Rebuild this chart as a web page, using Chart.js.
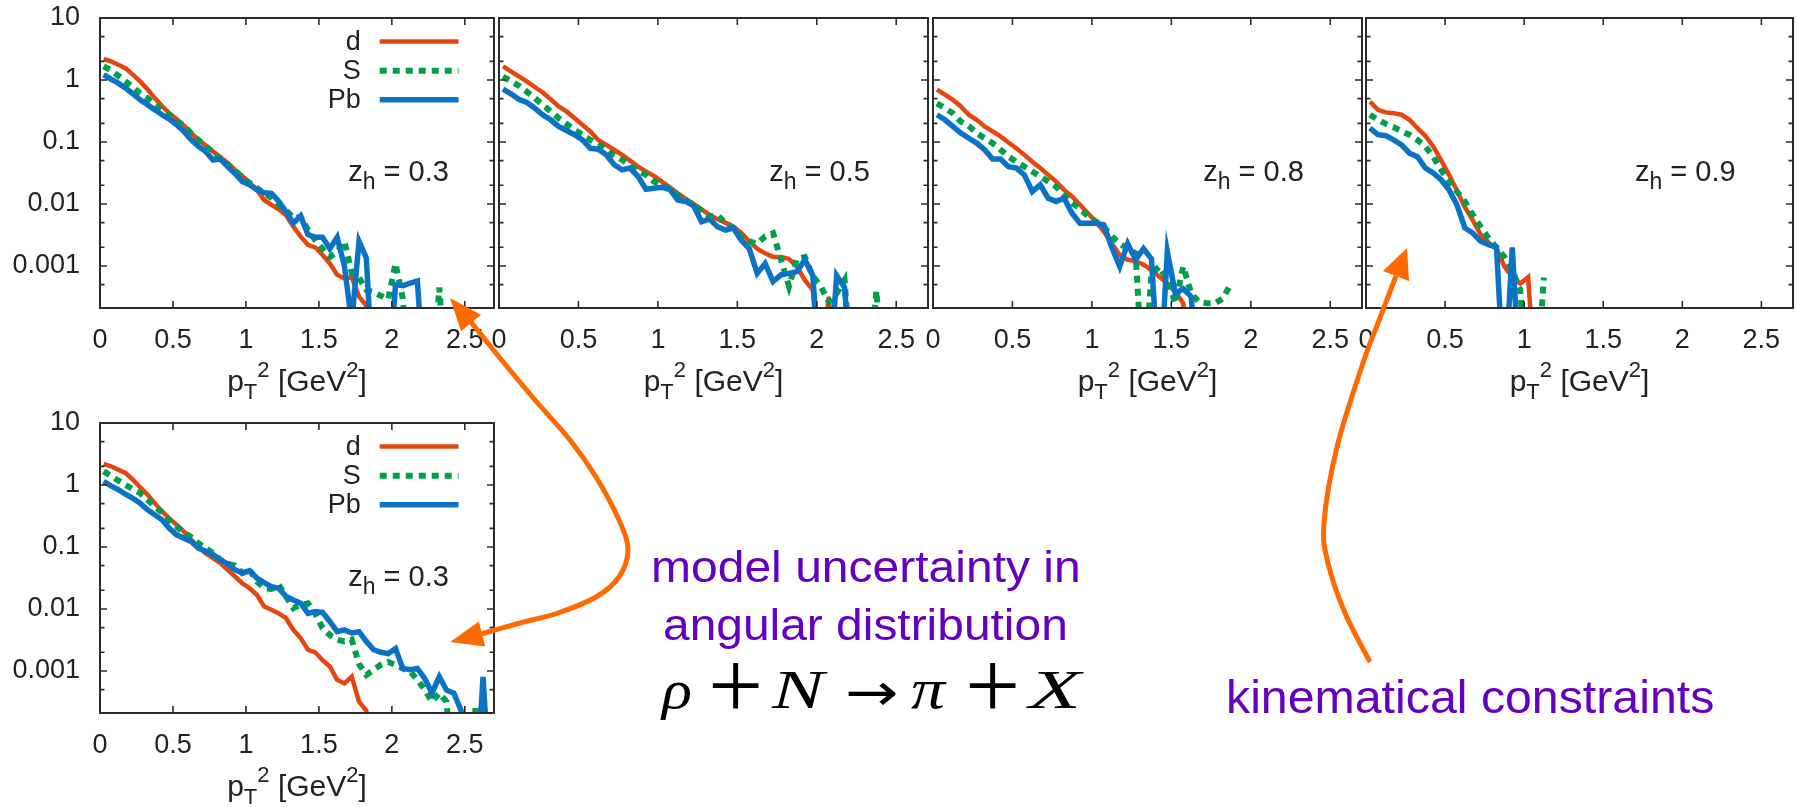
<!DOCTYPE html>
<html>
<head>
<meta charset="utf-8">
<title>pT2 spectra</title>
<script src="https://cdn.jsdelivr.net/npm/chart.js"></script>
<style>
  html, body { margin: 0; padding: 0; background: #fff; overflow: hidden; }
  body { width: 1797px; height: 807px; position: relative; }
  canvas.panel { position: absolute; }
  #overlay { position: absolute; left: 0; top: 0; pointer-events: none; z-index: 5; }
  .note { position: absolute; white-space: nowrap; line-height: 1; transform-origin: 0 0; z-index: 6; }
</style>
</head>
<body>
<canvas class="panel" id="p1"></canvas>
<canvas class="panel" id="p2"></canvas>
<canvas class="panel" id="p3"></canvas>
<canvas class="panel" id="p4"></canvas>
<canvas class="panel" id="p5"></canvas>
<canvas id="overlay" width="1797" height="807"></canvas>

<script>
// x grid (pT^2 in GeV^2), shared by all curves
const pT2 = [0.025,0.075,0.125,0.175,0.225,0.275,0.325,0.375,0.425,0.475,
             0.525,0.575,0.625,0.675,0.725,0.775,0.825,0.875,0.925,0.975,
             1.025,1.075,1.125,1.175,1.225,1.275,1.325,1.375,1.425,1.475,
             1.525,1.575,1.625,1.675,1.725,1.775,1.825,1.875,1.925,1.975,
             2.025,2.075,2.125,2.175,2.225,2.275,2.325,2.375,2.425,2.475,
             2.525,2.575,2.625,2.675];

// values; 1e-5 = curve dropped below the axis
const d_z03 = [2.18,2.0,1.76,1.55,1.22,0.95,0.71,0.51,0.38,0.29,
               0.234,0.183,0.139,0.108,0.088,0.070,0.057,0.046,0.0355,0.0284,
               0.0222,0.017,0.0116,0.0097,0.0082,0.0066,0.0043,0.0030,0.0022,0.0020,
               0.0015,0.0011,7.2e-4,6.3e-4,6.6e-4,3.2e-4,2.3e-4,1e-5];
const S_z03 = [1.66,1.43,1.17,0.95,0.77,0.61,0.51,0.40,0.33,0.275,
               0.222,0.18,0.139,0.108,0.085,0.068,0.053,0.043,0.035,0.026,
               0.022,0.018,0.015,0.0126,0.0097,0.008,0.0059,0.0062,0.0038,0.0026,
               0.0019,0.0014,0.0017,0.0025,7.7e-4,6.5e-4,4.1e-4,3.8e-4,3.3e-4,2.9e-4,
               1.1e-3,3e-4,1e-5,1e-5,1e-5,1e-5,4.5e-4,1e-5];
const Pb_z03 = [1.22,1.03,0.89,0.74,0.60,0.48,0.40,0.33,0.275,0.234,
                0.19,0.148,0.108,0.085,0.07,0.051,0.053,0.04,0.031,0.023,
                0.0204,0.017,0.0152,0.0148,0.011,0.0075,0.0049,0.0064,0.0032,0.0029,
                0.0029,0.0019,0.0029,0.001,1.2e-4,0.0025,0.00135,1e-5,1e-5,1e-5,
                5.0e-4,4.8e-4,5.3e-4,5.7e-4,1e-5];

const d_z05 = [1.66,1.38,1.14,0.95,0.77,0.63,0.49,0.374,0.311,0.243,
               0.189,0.148,0.108,0.090,0.075,0.062,0.050,0.040,0.0334,0.0284,
               0.023,0.0186,0.0149,0.0121,0.0100,0.0082,0.0067,0.0057,0.0050,0.0043,
               0.0034,0.0025,0.0019,0.0016,0.0014,0.0014,0.0013,9.8e-4,5.9e-4,4.1e-4,
               1e-5,3.2e-4,1e-5];
const S_z05 = [1.14,0.95,0.81,0.65,0.51,0.40,0.311,0.243,0.196,0.157,
               0.131,0.108,0.092,0.075,0.060,0.0515,0.0417,0.0347,0.0295,0.023,
               0.0204,0.017,0.014,0.0116,0.0097,0.0078,0.0063,0.0066,0.005,0.0041,
               0.003,0.0025,0.0023,0.003,0.0034,0.00126,4.7e-4,0.0013,0.0014,6.8e-4,
               4.7e-4,2.65e-4,3.6e-4,5.9e-4,1e-5,1e-5,1e-5,4.0e-4,1e-5];
const Pb_z05 = [0.71,0.60,0.49,0.435,0.352,0.275,0.228,0.178,0.153,0.131,
                0.108,0.079,0.0766,0.062,0.043,0.0355,0.038,0.0277,0.0173,0.018,
                0.0186,0.0173,0.0116,0.011,0.0093,0.0052,0.0057,0.0043,0.0038,0.0041,
                0.0026,0.0019,7.6e-4,0.0011,5.6e-4,7.2e-4,7.6e-4,8.1e-4,0.00126,7.0e-4,
                1e-5,1e-5,7.0e-4,4.5e-4,1e-5];

const d_z08 = [0.70,0.58,0.48,0.374,0.275,0.228,0.178,0.148,0.123,0.098,
               0.079,0.062,0.048,0.038,0.0295,0.023,0.0169,0.0132,0.0097,0.0071,
               0.0052,0.0036,0.0023,0.0015,0.00126,0.0012,0.00105,8.6e-4,6.7e-4,5.2e-4,
               3.8e-4,2.5e-4,1e-5];
const S_z08 = [0.42,0.35,0.29,0.214,0.182,0.139,0.115,0.096,0.075,0.058,
               0.048,0.040,0.0334,0.0277,0.023,0.019,0.014,0.0103,0.0085,0.0063,
               0.0052,0.0043,0.003,0.0023,0.0019,0.0016,1e-5,7.6e-4,9.8e-4,5.9e-4,
               2.5e-4,9.8e-4,3.6e-4,2.6e-4,2.5e-4,2.5e-4,3e-4,5.2e-4];
const Pb_z08 = [0.275,0.228,0.178,0.139,0.115,0.096,0.075,0.053,0.053,0.040,
                0.038,0.0295,0.0159,0.0204,0.0124,0.011,0.0124,0.0071,0.0049,0.0049,
                0.0049,0.0046,0.002,9.8e-4,0.0023,0.00126,0.0019,0.0013,1e-5,0.0017,
                3.6e-4,4.3e-4,3.2e-4,1e-5];

const d_z09 = [0.45,0.33,0.30,0.29,0.275,0.228,0.167,0.126,0.085,0.051,
               0.0295,0.0165,0.0089,0.0055,0.0032,0.0024,0.0019,9.9e-4,6.6e-4,5.2e-4,
               6.6e-4,1e-5];
const S_z09 = [0.275,0.228,0.196,0.174,0.148,0.131,0.108,0.085,0.058,0.0355,
               0.023,0.0159,0.011,0.0067,0.0043,0.0028,0.002,0.0014,8.6e-4,4.1e-4,
               1e-5,1e-5,6.5e-4];
const Pb_z09 = [0.167,0.131,0.126,0.108,0.090,0.066,0.058,0.038,0.0316,0.0246,
                0.0169,0.0097,0.0041,0.0034,0.0025,0.0022,0.002,1e-5,0.002,1e-5];

// lower panel: z_h = 0.3 with the other angular model
const d_z03b = [2.2,2.0,1.76,1.56,1.22,0.92,0.70,0.51,0.374,0.29,
                0.228,0.178,0.131,0.1,0.079,0.066,0.055,0.043,0.0334,0.026,
                0.0216,0.017,0.011,0.0097,0.0085,0.0071,0.0046,0.0034,0.0022,0.002,
                0.0015,0.00118,7.2e-4,6.3e-4,8.1e-4,3.2e-4,2.3e-4,1e-5];
const S_z03b = [1.66,1.40,1.18,1.0,0.86,0.74,0.58,0.45,0.36,0.268,
                0.214,0.171,0.144,0.115,0.096,0.079,0.062,0.0536,0.050,0.038,
                0.043,0.0277,0.0216,0.021,0.0245,0.0159,0.0103,0.0117,0.0123,0.0085,
                0.0049,0.0038,0.0032,0.003,0.0032,0.0013,8.6e-4,0.00105,0.00126,0.0014,
                0.00126,0.0011,9.8e-4,7.2e-4,5e-4,3.2e-4,4.4e-4,3.2e-4,1e-5,1e-5,
                1e-5,2.8e-4,2.6e-4,2.7e-4];
const Pb_z03b = [1.14,0.97,0.84,0.71,0.61,0.51,0.40,0.33,0.275,0.20,
                 0.157,0.139,0.123,0.096,0.085,0.075,0.062,0.0536,0.043,0.038,
                 0.0417,0.0316,0.0267,0.023,0.0216,0.0159,0.014,0.0124,0.0085,0.0091,
                 0.0088,0.0063,0.0043,0.0046,0.0041,0.0043,0.003,0.0022,0.002,0.0019,
                 0.0023,0.0011,0.00105,0.0011,7.6e-4,4.4e-4,8.1e-4,4.9e-4,4.4e-4,2.3e-4,
                 1e-5,1e-5,8e-4,1e-5];

const seriesNames = ['d', 'S', 'Pb'];
const zhLabels = ['0.3', '0.5', '0.8', '0.9', '0.3'];
const xTicks = [0, 0.5, 1, 1.5, 2, 2.5];
const xTickLabels = ['0', '0.5', '1', '1.5', '2', '2.5'];
const yTicks = [5e-4, 1e-3, 2e-3, 5e-3, 0.01, 0.02, 0.05, 0.1, 0.2, 0.5, 1, 2, 5, 10];
const yMajor = [1e-3, 0.01, 0.1, 1, 10];
const yMajorLabels = ['0.001', '0.01', '0.1', '1', '10'];

const FONT = '"Liberation Sans", Arial, Helvetica, sans-serif';
const TXT = '#222';
const FRAME = '#2b2b2b';
const RED = '#e6460e', GREEN = '#00a04b', BLUE = '#0b73c6';

function drawParts(ctx, parts, x, y, align) {
  let w = 0;
  parts.forEach(p => { ctx.font = p.s + 'px ' + FONT; p.w = ctx.measureText(p.t).width; w += p.w; });
  let cx = align === 'center' ? x - w / 2 : x;
  ctx.textAlign = 'left';
  ctx.textBaseline = 'alphabetic';
  parts.forEach(p => {
    ctx.font = p.s + 'px ' + FONT;
    ctx.fillText(p.t, cx, y + (p.dy || 0));
    cx += p.w;
  });
}

const gnuPlugin = {
  id: 'gnu',
  afterDraw(chart, args, o) {
    const { ctx, chartArea: a, scales: { x, y } } = chart;
    const W = a.right - a.left;
    ctx.save();
    // inward ticks on all four sides
    ctx.strokeStyle = FRAME;
    ctx.lineWidth = 1.6;
    ctx.beginPath();
    xTicks.forEach(v => {
      const px = x.getPixelForValue(v);
      ctx.moveTo(px, a.bottom); ctx.lineTo(px, a.bottom - 7);
      ctx.moveTo(px, a.top); ctx.lineTo(px, a.top + 7);
    });
    yTicks.forEach(v => {
      const py = y.getPixelForValue(v);
      const len = yMajor.includes(v) ? 7 : 4.5;
      ctx.moveTo(a.left, py); ctx.lineTo(a.left + len, py);
      ctx.moveTo(a.right, py); ctx.lineTo(a.right - len, py);
    });
    ctx.stroke();
    ctx.lineWidth = 2;
    ctx.strokeRect(a.left, a.top, W, a.bottom - a.top);

    ctx.fillStyle = TXT;
    // axis title
    drawParts(ctx, [
      { t: 'p', s: 30 }, { t: 'T', s: 22, dy: 8 }, { t: '2', s: 22, dy: -14 },
      { t: ' [GeV', s: 30 }, { t: '2', s: 22, dy: -14 }, { t: ']', s: 30 }
    ], (a.left + a.right) / 2, a.bottom + 83, 'center');
    // z_h label
    drawParts(ctx, [
      { t: 'z', s: 29 }, { t: 'h', s: 23, dy: 8 }, { t: ' = ' + o.zh, s: 29 }
    ], a.left + 0.63 * W, a.top + 163, 'left');

    if (o.legend) {
      const rows = [23.4, 52.7, 81.7];
      chart.data.datasets.forEach((ds, i) => {
        const ry = a.top + rows[i];
        ctx.font = '27px ' + FONT;
        ctx.textAlign = 'right';
        ctx.textBaseline = 'middle';
        ctx.fillText(ds.label, a.left + 0.662 * W, ry + 1);
        ctx.strokeStyle = ds.borderColor;
        ctx.lineWidth = ds.borderWidth;
        ctx.setLineDash(ds.borderDash || []);
        ctx.lineCap = 'butt';
        ctx.beginPath();
        ctx.moveTo(a.left + 0.71 * W, ry);
        ctx.lineTo(a.left + 0.91 * W, ry);
        ctx.stroke();
        ctx.setLineDash([]);
      });
    }
    ctx.restore();
  }
};

function makeSet(label, values, color, width, dash, order) {
  return {
    label: label,
    data: values.map((v, i) => ({ x: pT2[i], y: v })),
    borderColor: color,
    borderWidth: width,
    borderDash: dash,
    borderCapStyle: 'butt',
    borderJoinStyle: 'miter',
    pointRadius: 0,
    fill: false,
    tension: 0,
    order: order
  };
}

function makePanel(id, box, d, S, Pb, zh, showY, legend) {
  const yw = showY ? 100 : 20, pt = 18, pr = 4, xh = 100;
  const cv = document.getElementById(id);
  const w = box.r - box.l + yw + pr, h = box.b - box.t + pt + xh;
  cv.width = w; cv.height = h;
  cv.style.left = (box.l - yw) + 'px';
  cv.style.top = (box.t - pt) + 'px';
  cv.style.width = w + 'px';
  cv.style.height = h + 'px';
  new Chart(cv, {
    type: 'line',
    data: {
      datasets: [
        makeSet(seriesNames[0], d, RED, 4.5, [], 3),
        makeSet(seriesNames[1], S, GREEN, 6, [7, 6], 2),
        makeSet(seriesNames[2], Pb, BLUE, 5.5, [], 1)
      ]
    },
    options: {
      responsive: false,
      animation: false,
      devicePixelRatio: 1,
      events: [],
      layout: { padding: { left: 0, top: pt, right: pr, bottom: 0 } },
      plugins: { legend: { display: false }, tooltip: { enabled: false }, gnu: { zh: zh, legend: legend } },
      scales: {
        x: {
          type: 'linear', min: 0, max: 2.7,
          afterBuildTicks: s => { s.ticks = xTicks.map(v => ({ value: v })); },
          afterFit: s => { s.height = xh; s.paddingLeft = 0; s.paddingRight = 0; },
          grid: { display: false, drawTicks: false },
          border: { display: false },
          ticks: {
            autoSkip: false, maxRotation: 0, minRotation: 0, padding: 16,
            color: TXT, font: { family: FONT, size: 27 },
            callback: (v, i) => xTickLabels[i]
          }
        },
        y: {
          type: 'logarithmic', min: 2.1e-4, max: 10,
          afterBuildTicks: s => { s.ticks = yTicks.map(v => ({ value: v })); },
          afterFit: s => { s.width = yw; s.paddingTop = 0; s.paddingBottom = 0; },
          grid: { display: false, drawTicks: false },
          border: { display: false },
          ticks: {
            display: showY, autoSkip: false, padding: 20,
            color: TXT, font: { family: FONT, size: 27 },
            callback: v => {
              const i = yMajor.findIndex(m => Math.abs(m - v) / m < 1e-6);
              return i >= 0 ? yMajorLabels[i] : '';
            }
          }
        }
      }
    },
    plugins: [gnuPlugin]
  });
}

makePanel('p1', { l: 100, r: 494, t: 18, b: 308 }, d_z03, S_z03, Pb_z03, zhLabels[0], true, true);
makePanel('p2', { l: 499, r: 928, t: 18, b: 308 }, d_z05, S_z05, Pb_z05, zhLabels[1], false, false);
makePanel('p3', { l: 933, r: 1362, t: 18, b: 308 }, d_z08, S_z08, Pb_z08, zhLabels[2], false, false);
makePanel('p4', { l: 1366, r: 1793, t: 18, b: 308 }, d_z09, S_z09, Pb_z09, zhLabels[3], false, false);
makePanel('p5', { l: 100, r: 494, t: 423, b: 713 }, d_z03b, S_z03b, Pb_z03b, zhLabels[4], true, true);

// orange annotation arrows
const ov = document.getElementById('overlay').getContext('2d');
const ORANGE = '#ff6a00';
function smoothPath(ctx, pts) {
  ctx.moveTo(pts[0][0], pts[0][1]);
  for (let i = 0; i < pts.length - 1; i++) {
    const p0 = pts[i - 1] || pts[i], p1 = pts[i], p2 = pts[i + 1], p3 = pts[i + 2] || p2;
    ctx.bezierCurveTo(p1[0] + (p2[0] - p0[0]) / 6, p1[1] + (p2[1] - p0[1]) / 6,
                      p2[0] - (p3[0] - p1[0]) / 6, p2[1] - (p3[1] - p1[1]) / 6, p2[0], p2[1]);
  }
}
function arrowHead(ctx, tip, base, half) {
  const dx = tip[0] - base[0], dy = tip[1] - base[1];
  const L = Math.hypot(dx, dy), nx = -dy / L, ny = dx / L;
  ctx.beginPath();
  ctx.moveTo(tip[0], tip[1]);
  ctx.lineTo(base[0] + nx * half, base[1] + ny * half);
  ctx.lineTo(base[0] - nx * half, base[1] - ny * half);
  ctx.closePath();
  ctx.fill();
}
ov.strokeStyle = ORANGE;
ov.fillStyle = ORANGE;
ov.lineWidth = 5;
ov.lineCap = 'butt';
const arrowA = [[471,322],[500,358],[535,400],[570,440],[596,477],[619,520],[628,550],
                [619,577],[596,597],[558,613],[520,623],[481,634]];
ov.beginPath(); smoothPath(ov, arrowA); ov.stroke();
arrowHead(ov, [450, 298], [471, 323], 13);
arrowHead(ov, [450, 642], [482, 634], 13);
const arrowB = [[1396,276],[1380,318],[1363,363],[1337,447],[1324,523],[1328,563],
                [1345,613],[1370,662]];
ov.beginPath(); smoothPath(ov, arrowB); ov.stroke();
arrowHead(ov, [1407, 248], [1396, 276], 14);

// annotation texts
const PURPLE = '#6400be';
function note(text, left, baseline, size, family, color, targetWidth, italic, asc) {
  const el = document.createElement('div');
  el.className = 'note';
  el.textContent = text;
  el.style.fontFamily = family;
  el.style.fontSize = size + 'px';
  el.style.color = color;
  if (italic) el.style.fontStyle = 'italic';
  el.style.left = left + 'px';
  el.style.top = (baseline - asc * size) + 'px';
  document.body.appendChild(el);
  if (targetWidth) el.style.transform = 'scaleX(' + (targetWidth / el.offsetWidth) + ')';
  return el;
}
const SANS = '"Liberation Sans", Arial, sans-serif';
const SERIF = '"Liberation Serif", "Times New Roman", serif';
note('model uncertainty in', 651, 582, 44, SANS, PURPLE, 430, false, 0.8465);
note('angular distribution', 663, 640, 44, SANS, PURPLE, 405, false, 0.8465);
note('kinematical constraints', 1226, 713, 46, SANS, PURPLE, 488, false, 0.8465);

// reaction formula
note('\u03C1', 662, 708, 54, SERIF, '#000', 30, true, 0.8375);
note('+', 708, 718, 98, SERIF, '#000', 0, false, 0.8375);
note('N', 772, 708, 54, SERIF, '#000', 52, true, 0.8375);
note('\u2192', 845, 710, 52, '"DejaVu Sans", sans-serif', '#000', 54, false, 0.846);
note('\u03C0', 911, 708, 56, SERIF, '#000', 34, true, 0.8375);
note('+', 965, 718, 98, SERIF, '#000', 0, false, 0.8375);
note('X', 1029, 708, 54, SERIF, '#000', 52, true, 0.8375);
</script>
</body>
</html>
